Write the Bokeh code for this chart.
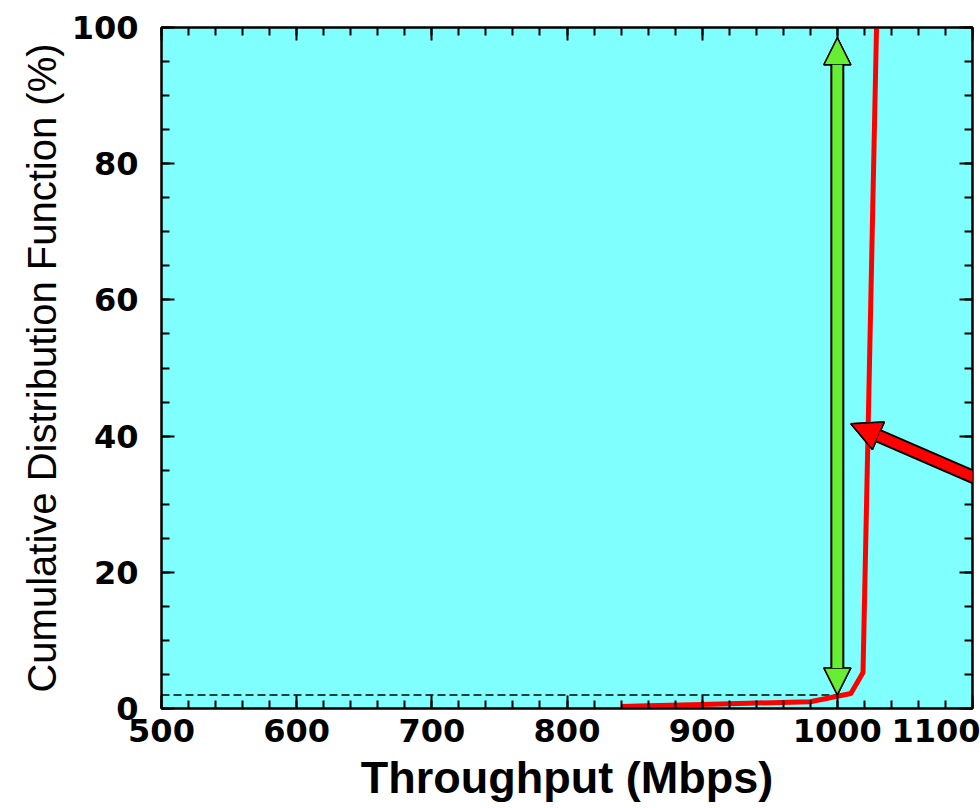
from bokeh.plotting import figure
from bokeh.models import (Range1d, LinearAxis, SingleIntervalTicker, Arrow,
                          NormalHead, CustomJSTickFormatter)
from bokeh.embed import file_html
from bokeh.resources import INLINE

# ---- data ----
throughput = [840, 860, 900, 940, 980, 1000, 1010, 1019, 1029]
cdf_percent = [0.3, 0.4, 0.6, 0.8, 1.0, 1.8, 2.2, 5.3, 100]

ref_line_x = [500, 1000]
ref_line_y = [2, 2]

span_x = 1000
span_y_low = 2
span_y_high = 98.5

pointer_from = (1110, 33.2)
pointer_to = (1010, 41.8)

x_min, x_max = 500, 1100
y_min, y_max = 0, 100

# ---- styles ----
CYAN = "#80FFFF"
GREEN = "#66EE33"
RED = "#FF0000"
TICK_FONT = "DejaVu Sans"
TITLE_FONT = "Liberation Sans"

p = figure(width=980, height=808, output_backend="svg", toolbar_location=None,
           x_range=Range1d(x_min, x_max), y_range=Range1d(y_min, y_max),
           min_border_left=161, min_border_right=8, min_border_top=27,
           min_border_bottom=100)
p.background_fill_color = CYAN
p.border_fill_color = "white"
p.outline_line_color = "black"
p.outline_line_width = 2
p.xgrid.visible = False
p.ygrid.visible = False

p.xaxis.ticker = SingleIntervalTicker(interval=100, num_minor_ticks=5)
p.yaxis.ticker = SingleIntervalTicker(interval=20, num_minor_ticks=4)

for ax in (p.xaxis[0], p.yaxis[0]):
    ax.axis_line_color = "black"
    ax.axis_line_width = 2
    ax.major_tick_in = 13
    ax.major_tick_out = 0
    ax.minor_tick_in = 8
    ax.minor_tick_out = 0
    ax.major_tick_line_width = 2
    ax.minor_tick_line_width = 2
    ax.major_label_text_font = TICK_FONT
    ax.major_label_text_font_style = "bold"
    ax.major_label_text_font_size = "32px"
    ax.major_label_text_color = "black"
    ax.axis_label_text_color = "black"

p.xaxis.major_label_standoff = 10
p.yaxis.major_label_standoff = 23
p.xaxis.axis_label = "Throughput (Mbps)"
p.xaxis.axis_label_text_font = TITLE_FONT
p.xaxis.axis_label_text_font_style = "bold"
p.xaxis.axis_label_text_font_size = "45px"
p.xaxis.axis_label_standoff = 7
p.yaxis.axis_label = "Cumulative Distribution Function (%)"
p.yaxis.axis_label_text_font = TITLE_FONT
p.yaxis.axis_label_text_font_style = "normal"
p.yaxis.axis_label_text_font_size = "40px"
p.yaxis.axis_label_standoff = 5

blank = CustomJSTickFormatter(code="return ''")
top_ax = LinearAxis(ticker=SingleIntervalTicker(interval=100, num_minor_ticks=5),
                    formatter=blank)
right_ax = LinearAxis(ticker=SingleIntervalTicker(interval=20, num_minor_ticks=4),
                      formatter=blank)
for ax in (top_ax, right_ax):
    ax.axis_line_color = "black"
    ax.axis_line_width = 2
    ax.major_tick_in = 13
    ax.major_tick_out = 0
    ax.minor_tick_in = 8
    ax.minor_tick_out = 0
    ax.major_tick_line_width = 2
    ax.minor_tick_line_width = 2
    ax.major_label_standoff = 0
    ax.major_label_text_font_size = "0px"
p.add_layout(top_ax, "above")
p.add_layout(right_ax, "right")

# dashed reference line at the 2% level
p.line(ref_line_x, ref_line_y, line_color="black", line_width=1.5, line_dash="8 4")

# CDF curve
p.line(throughput, cdf_percent, line_color=RED, line_width=5, line_join="round")

# green double arrow
for color, lw in (("black", 14), (GREEN, 10)):
    p.add_layout(Arrow(x_start=span_x, y_start=span_y_low, x_end=span_x, y_end=span_y_high,
                       line_color=color, line_width=lw,
                       start=NormalHead(size=27, fill_color=GREEN, line_color="black", line_width=1.5),
                       end=NormalHead(size=27, fill_color=GREEN, line_color="black", line_width=1.5)))

# red pointer arrow
for color, lw in (("black", 14), (RED, 10)):
    p.add_layout(Arrow(x_start=pointer_from[0], y_start=pointer_from[1],
                       x_end=pointer_to[0], y_end=pointer_to[1],
                       line_color=color, line_width=lw,
                       end=NormalHead(size=30, fill_color=RED, line_color="black", line_width=1.5)))

open("out.html", "w").write(file_html(p, INLINE))
